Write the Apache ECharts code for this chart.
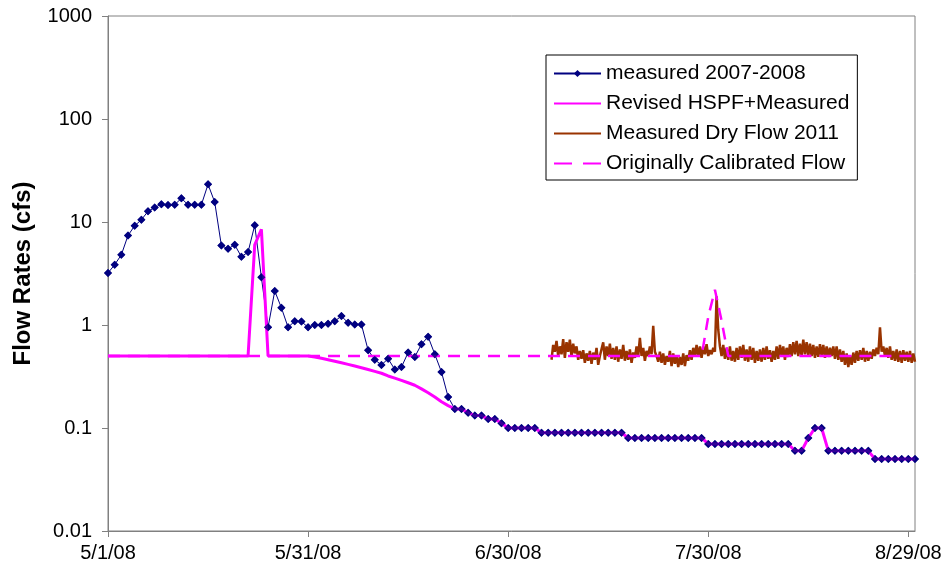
<!DOCTYPE html>
<html>
<head>
<meta charset="utf-8">
<title>Flow Rates</title>
<script src="https://cdn.jsdelivr.net/npm/echarts@6/dist/echarts.min.js"></script>
<style>
  html, body { margin: 0; padding: 0; background: #fff; }
  #chart { width: 946px; height: 575px; }
</style>
</head>
<body>
<div id="chart"></div>
<script>
// x = days since 5/1/08
var xTickDays = [0, 30, 60, 90, 120];
var xTickLabels = ['5/1/08', '5/31/08', '6/30/08', '7/30/08', '8/29/08'];

// measured 2007-2008, one value per day starting 5/1
var measured = [
  3.2, 3.85, 4.8, 7.4, 9.2, 10.5, 12.7, 13.8, 14.9, 14.6,
  14.7, 17.0, 14.7, 14.7, 14.7, 23.2, 15.6, 5.9, 5.5, 6.0,
  4.6, 5.1, 9.3, 2.9, 0.95, 2.14, 1.47, 0.95, 1.09, 1.08,
  0.95, 1.0, 1.0, 1.03, 1.09, 1.22, 1.05, 1.01, 1.01, 0.57,
  0.46, 0.41, 0.47, 0.37, 0.39, 0.54, 0.49, 0.65, 0.77, 0.52,
  0.35, 0.2, 0.153, 0.153, 0.141, 0.132, 0.132, 0.122, 0.122, 0.111,
  0.1, 0.1, 0.1, 0.1, 0.1,
  0.09, 0.09, 0.09, 0.09, 0.09, 0.09, 0.09, 0.09, 0.09, 0.09, 0.09, 0.09, 0.09,
  0.08, 0.08, 0.08, 0.08, 0.08, 0.08, 0.08, 0.08, 0.08, 0.08, 0.08, 0.08,
  0.07, 0.07, 0.07, 0.07, 0.07, 0.07, 0.07, 0.07, 0.07, 0.07, 0.07, 0.07, 0.07,
  0.06, 0.06, 0.08, 0.1, 0.1,
  0.06, 0.06, 0.06, 0.06, 0.06, 0.06, 0.06,
  0.05, 0.05, 0.05, 0.05, 0.05, 0.05, 0.05
];

// Revised HSPF+Measured: own values for the first 53 days, then follows measured
var revisedHead = [
  0.5, 0.5, 0.5, 0.5, 0.5, 0.5, 0.5, 0.5, 0.5, 0.5, 0.5,
  0.5, 0.5, 0.5, 0.5, 0.5, 0.5, 0.5, 0.5, 0.5, 0.5, 0.5,
  6.0, 8.5,
  0.5, 0.5, 0.5, 0.5, 0.5, 0.5, 0.5,
  0.49, 0.475, 0.46, 0.445, 0.43, 0.415, 0.4, 0.385, 0.37, 0.355, 0.34,
  0.32, 0.305, 0.29, 0.275, 0.26, 0.24, 0.22, 0.2, 0.18, 0.165, 0.153
];

// Measured Dry Flow 2011, every 6 hours from day 66.5
var dryStartDay = 66.5;
var dryStepDays = 0.25;
var dryFlow = [
  0.46, 0.64,
  0.55, 0.7, 0.5, 0.62,
  0.52, 0.73, 0.48, 0.68,
  0.55, 0.72, 0.49, 0.66,
  0.53, 0.62, 0.46, 0.56,
  0.47, 0.57, 0.43, 0.53,
  0.45, 0.56, 0.42, 0.54,
  0.46, 0.6, 0.41, 0.5,
  0.49, 0.68, 0.46, 0.62,
  0.5, 0.66, 0.47, 0.6,
  0.46, 0.62, 0.44, 0.58,
  0.47, 0.64, 0.45, 0.56,
  0.46, 0.58, 0.43, 0.54,
  0.48, 0.62, 0.5, 0.75,
  0.5, 0.6, 0.45, 0.56,
  0.5, 0.62, 0.52, 0.98,
  0.55, 0.5, 0.44, 0.55,
  0.43, 0.53, 0.41, 0.5,
  0.44, 0.56, 0.4, 0.53,
  0.42, 0.51, 0.39, 0.49,
  0.41, 0.53, 0.4, 0.51,
  0.45, 0.57, 0.46, 0.6,
  0.5, 0.64, 0.49, 0.62,
  0.48, 0.62, 0.52, 0.65,
  0.5, 0.57, 0.52, 0.6,
  0.55, 1.9, 0.9, 0.62,
  0.5, 0.64, 0.47, 0.6,
  0.46, 0.62, 0.45, 0.56,
  0.44, 0.6, 0.46, 0.62,
  0.48, 0.64, 0.45, 0.58,
  0.44, 0.62, 0.46, 0.6,
  0.43, 0.56, 0.45, 0.58,
  0.44, 0.6, 0.46, 0.62,
  0.47, 0.57, 0.44, 0.56,
  0.46, 0.62, 0.47, 0.64,
  0.5, 0.62, 0.46, 0.6,
  0.49, 0.65, 0.5, 0.68,
  0.52, 0.7, 0.5, 0.66,
  0.5, 0.72, 0.52, 0.68,
  0.5, 0.66, 0.5, 0.64,
  0.48, 0.62, 0.49, 0.65,
  0.5, 0.64, 0.48, 0.62,
  0.49, 0.6, 0.5, 0.62,
  0.47, 0.62, 0.46, 0.58,
  0.44, 0.56, 0.41, 0.53,
  0.39, 0.51, 0.41, 0.54,
  0.43, 0.56, 0.45, 0.57,
  0.46, 0.6, 0.44, 0.56,
  0.45, 0.55, 0.47, 0.58,
  0.5, 0.6, 0.52, 0.95,
  0.55, 0.62, 0.5, 0.6,
  0.48, 0.62, 0.46, 0.56,
  0.45, 0.58, 0.44, 0.56,
  0.43, 0.57, 0.45, 0.55,
  0.44, 0.56, 0.43, 0.53,
  0.44
];

// Originally Calibrated Flow
var origDays = [0, 89, 90, 91, 92, 93, 121];
var origFlow = [0.5, 0.5, 1.2, 2.2, 1.1, 0.5, 0.5];

var measuredPts = measured.map(function (v, i) { return [i, v]; });
var revisedPts = revisedHead.concat(measured.slice(revisedHead.length))
  .map(function (v, i) { return [i, v]; });
var dryPts = dryFlow.map(function (v, i) { return [dryStartDay + i * dryStepDays, v]; });
var origPts = origDays.map(function (d, i) { return [d, origFlow[i]]; });

var FONT = '"Liberation Sans", Arial, sans-serif';
var chart = echarts.init(document.getElementById('chart'));

var noMarker = { opacity: 0 };

var option = {
  animation: false,
  backgroundColor: '#fff',
  grid: {
    left: 108, right: 31, top: 16, bottom: 44,
    show: true, borderColor: '#808080', borderWidth: 1
  },
  legend: {
    data: [
      { name: 'measured 2007-2008' },
      { name: 'Revised HSPF+Measured', itemStyle: noMarker },
      { name: 'Measured Dry Flow 2011', itemStyle: noMarker },
      { name: 'Originally Calibrated Flow', itemStyle: noMarker, lineStyle: { type: [18, 11] } }
    ],
    orient: 'vertical',
    left: 546, top: 55,
    padding: [8, 8, 6, 7],
    itemWidth: 47, itemHeight: 9, itemGap: 9,
    borderColor: '#000', borderWidth: 1,
    backgroundColor: '#fff',
    textStyle: { fontFamily: FONT, fontSize: 21, color: '#000' }
  },
  xAxis: {
    type: 'value',
    min: 0, max: 121, interval: 30,
    splitLine: { show: false },
    axisLine: { lineStyle: { color: '#808080' } },
    axisTick: { customValues: xTickDays, length: 6, lineStyle: { color: '#808080' } },
    axisLabel: {
      customValues: xTickDays,
      margin: 12,
      fontFamily: FONT, fontSize: 20, color: '#000',
      formatter: function (v) {
        var k = xTickDays.indexOf(Math.round(v));
        return k >= 0 ? xTickLabels[k] : '';
      }
    }
  },
  yAxis: {
    type: 'log', logBase: 10,
    min: 0.01, max: 1000,
    name: 'Flow Rates (cfs)',
    nameLocation: 'middle',
    nameGap: 73,
    nameTextStyle: { fontFamily: FONT, fontSize: 24, fontWeight: 'bold', color: '#000' },
    splitLine: { show: false },
    axisLine: { show: true, lineStyle: { color: '#808080' } },
    axisTick: { show: true, length: 6, lineStyle: { color: '#808080' } },
    axisLabel: {
      margin: 16,
      fontFamily: FONT, fontSize: 20, color: '#000',
      formatter: function (v) { return String(+Number(v).toPrecision(3)); }
    }
  },
  series: [
    {
      name: 'measured 2007-2008', type: 'line', data: measuredPts,
      symbol: 'diamond', symbolSize: 8, showSymbol: true,
      itemStyle: { color: '#000080' },
      lineStyle: { color: '#000080', width: 1 },
      z: 2
    },
    {
      name: 'Revised HSPF+Measured', type: 'line', data: revisedPts,
      symbol: 'none',
      itemStyle: { color: '#FF00FF' },
      lineStyle: { color: '#FF00FF', width: 3 },
      z: 3
    },
    {
      name: 'Measured Dry Flow 2011', type: 'line', data: dryPts,
      symbol: 'none',
      itemStyle: { color: '#993300' },
      lineStyle: { color: '#993300', width: 2.5 },
      z: 3
    },
    {
      name: 'Originally Calibrated Flow', type: 'line', data: origPts,
      symbol: 'none',
      itemStyle: { color: '#FF00FF' },
      lineStyle: { color: '#FF00FF', width: 2.5, type: [12, 8] },
      z: 4
    },
    {
      name: 'measured markers', type: 'scatter', data: measuredPts,
      symbol: 'diamond', symbolSize: 8,
      itemStyle: { color: '#000080' },
      z: 5
    }
  ]
};
chart.setOption(option);
</script>
</body>
</html>
